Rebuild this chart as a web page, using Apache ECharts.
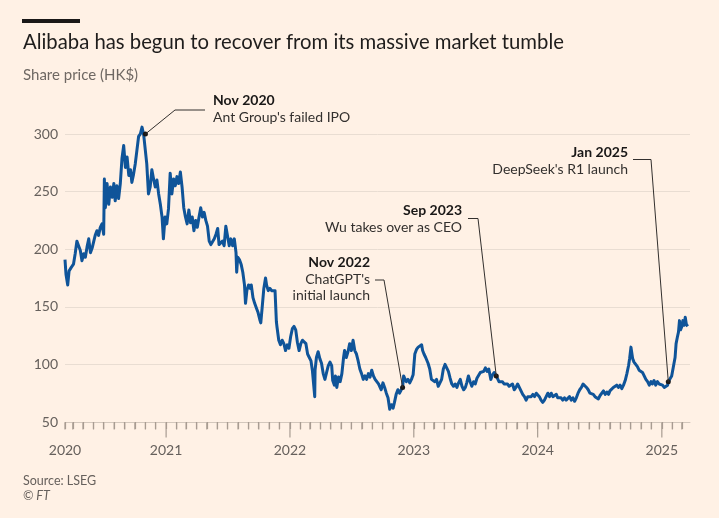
<!DOCTYPE html>
<html><head><meta charset="utf-8">
<script src="https://cdn.jsdelivr.net/npm/echarts@6/dist/echarts.min.js"></script>
<style>html,body{margin:0;padding:0;background:#fff1e5}#c{width:719px;height:518px}</style>
</head><body><div id="c"></div>
<script>
const dates = [
'2020-03-09','2020-03-12','2020-03-17','2020-03-21','2020-03-27','2020-04-03','2020-04-08','2020-04-13','2020-04-18','2020-04-23','2020-04-28',
'2020-05-03','2020-05-08','2020-05-13','2020-05-18','2020-05-23','2020-05-28','2020-06-01','2020-06-06','2020-06-11','2020-06-16','2020-06-21','2020-06-26',
'2020-07-01','2020-07-03','2020-07-06','2020-07-11','2020-07-16','2020-07-21','2020-07-26','2020-07-31','2020-08-04','2020-08-09','2020-08-14','2020-08-19',
'2020-08-24','2020-08-29','2020-09-03','2020-09-08','2020-09-13','2020-09-18','2020-09-22','2020-09-27','2020-10-02','2020-10-07','2020-10-12','2020-10-17',
'2020-10-22','2020-10-27','2020-11-01','2020-11-05','2020-11-10','2020-11-15','2020-11-20','2020-11-25','2020-11-30','2020-12-05','2020-12-10','2020-12-15',
'2020-12-20','2020-12-24','2020-12-29',
'2021-01-03','2021-01-08','2021-01-13','2021-01-18','2021-01-23','2021-01-28','2021-02-02','2021-02-07','2021-02-12','2021-02-17','2021-02-22','2021-02-27',
'2021-03-04','2021-03-09','2021-03-14','2021-03-19','2021-03-24','2021-03-29','2021-04-03','2021-04-08','2021-04-13','2021-04-18','2021-04-23','2021-04-28',
'2021-05-03','2021-05-08','2021-05-13','2021-05-18','2021-05-23','2021-05-28','2021-06-02','2021-06-06','2021-06-11','2021-06-16','2021-06-21','2021-06-26',
'2021-07-01','2021-07-06','2021-07-11','2021-07-16','2021-07-21','2021-07-26','2021-07-28','2021-07-31','2021-08-05','2021-08-10','2021-08-15','2021-08-20',
'2021-08-23','2021-08-27','2021-09-01','2021-09-06','2021-09-09','2021-09-14','2021-09-19','2021-09-24','2021-09-29','2021-10-04','2021-10-07','2021-10-11',
'2021-10-16','2021-10-21','2021-10-24','2021-10-29','2021-11-03','2021-11-08','2021-11-13','2021-11-18','2021-11-22','2021-11-24','2021-11-29','2021-12-04',
'2021-12-09','2021-12-14','2021-12-19','2021-12-24','2021-12-29',
'2022-01-03','2022-01-08','2022-01-13','2022-01-18','2022-01-23','2022-01-28','2022-02-02','2022-02-07','2022-02-12','2022-02-17','2022-02-22','2022-02-27',
'2022-03-04','2022-03-08','2022-03-15','2022-03-16','2022-03-20','2022-03-25','2022-03-30','2022-04-04','2022-04-09','2022-04-14','2022-04-19','2022-04-24',
'2022-04-29','2022-05-04','2022-05-07','2022-05-12','2022-05-15','2022-05-19','2022-05-24','2022-05-29','2022-06-03','2022-06-08','2022-06-11','2022-06-16',
'2022-06-21','2022-06-26','2022-07-01','2022-07-06','2022-07-11','2022-07-16','2022-07-21','2022-07-26','2022-07-31','2022-08-05','2022-08-10','2022-08-15',
'2022-08-20','2022-08-25','2022-08-30','2022-09-04','2022-09-09','2022-09-14','2022-09-19','2022-09-23','2022-09-27','2022-10-02','2022-10-07','2022-10-12',
'2022-10-17','2022-10-22','2022-10-27','2022-11-01','2022-11-05','2022-11-10','2022-11-15','2022-11-20','2022-11-25','2022-11-29','2022-12-02','2022-12-05',
'2022-12-10','2022-12-15','2022-12-20','2022-12-25','2022-12-30',
'2023-01-04','2023-01-09','2023-01-14','2023-01-19','2023-01-24','2023-01-27','2023-01-31','2023-02-05','2023-02-09','2023-02-12','2023-02-17','2023-02-22',
'2023-02-27','2023-03-04','2023-03-09','2023-03-14','2023-03-19','2023-03-24','2023-03-29','2023-04-03','2023-04-08','2023-04-13','2023-04-18','2023-04-23',
'2023-04-28','2023-05-03','2023-05-08','2023-05-13','2023-05-18','2023-05-23','2023-05-28','2023-06-02','2023-06-06','2023-06-11','2023-06-16','2023-06-21',
'2023-06-26','2023-07-01','2023-07-06','2023-07-11','2023-07-16','2023-07-21','2023-07-26','2023-07-31','2023-08-05','2023-08-10','2023-08-16','2023-08-21',
'2023-08-26','2023-09-01','2023-09-09','2023-09-14','2023-09-19','2023-09-24','2023-09-29','2023-10-04','2023-10-09','2023-10-14','2023-10-19','2023-10-24',
'2023-10-29','2023-11-03','2023-11-08','2023-11-13','2023-11-18','2023-11-23','2023-11-28','2023-12-03','2023-12-08','2023-12-13','2023-12-18','2023-12-23',
'2023-12-28',
'2024-01-01','2024-01-06','2024-01-11','2024-01-16','2024-01-21','2024-01-26','2024-01-31','2024-02-05','2024-02-10','2024-02-15','2024-02-20','2024-02-25',
'2024-02-29','2024-03-05','2024-03-10','2024-03-15','2024-03-20','2024-03-25','2024-03-30','2024-04-04','2024-04-09','2024-04-14','2024-04-19','2024-04-24',
'2024-04-29','2024-05-04','2024-05-09','2024-05-14','2024-05-19','2024-05-24','2024-05-29','2024-06-03','2024-06-08','2024-06-13','2024-06-18','2024-06-23',
'2024-06-28','2024-07-03','2024-07-08','2024-07-13','2024-07-18','2024-07-23','2024-07-28','2024-08-01','2024-08-06','2024-08-11','2024-08-16','2024-08-21',
'2024-08-26','2024-08-31','2024-09-05','2024-09-10','2024-09-15','2024-09-20','2024-09-25','2024-09-28','2024-10-02','2024-10-04','2024-10-07','2024-10-11',
'2024-10-16','2024-10-21','2024-10-26','2024-10-31','2024-11-05','2024-11-10','2024-11-15','2024-11-20','2024-11-25','2024-11-30','2024-12-04','2024-12-09',
'2024-12-14','2024-12-19','2024-12-24','2024-12-29',
'2025-01-03','2025-01-08','2025-01-13','2025-01-18','2025-01-20','2025-01-25','2025-01-30','2025-02-04','2025-02-09','2025-02-12','2025-02-16','2025-02-19',
'2025-02-22','2025-02-25','2025-03-01','2025-03-04','2025-03-08','2025-03-11','2025-03-14','2025-03-18'
];
const prices = [
191,178,169,181,184,187,196,207,203,199,190,
196,193,202,209,197,201,206,212,216,212,219,222,
213,261,236,257,239,254,245,257,242,255,244,257,
279,290,271,280,264,269,258,265,274,286,298,300,
306,299,300,274,248,254,269,261,254,260,248,239,
228,209,228,
222,235,266,248,261,255,263,257,267,254,236,228,
222,234,223,228,216,225,219,228,236,228,232,225,
220,207,204,205,209,213,218,204,204,207,203,220,
219,203,209,203,209,197,180,193,191,187,180,169,
153,164,169,166,169,158,153,149,145,139,136,149,
166,175,169,164,166,164,165,164,137,132,121,117,
121,118,112,117,114,
124,131,133,130,119,112,118,121,122,118,109,106,
103,95,72,95,106,111,105,101,92,87,93,99,
102,99,86,82,90,80,89,85,92,106,112,106,
111,118,112,121,112,109,103,96,92,87,90,87,
92,89,95,90,87,85,83,84,78,84,80,75,
71,61,65,62,67,74,78,75,78,80,90,88,
85,87,84,87,91,
109,113,115,116,117,112,109,106,106,101,96,87,
88,85,87,81,80,87,96,100,97,94,88,83,
81,83,80,84,87,81,78,80,84,90,85,81,
85,83,88,87,93,93,94,97,94,96,87,91,
93,90,85,84,85,83,84,83,81,80,83,78,
80,83,80,77,74,72,69,72,71,72,74,72,
75,
75,72,69,67,69,72,75,72,75,72,71,74,
71,72,71,69,71,69,68,72,69,71,68,71,
75,78,80,83,84,80,78,75,75,74,72,73,
70,73,73,77,74,76,74,77,77,80,79,82,
80,82,79,82,86,92,99,105,115,114,105,102,
103,98,95,96,93,90,87,85,82,85,83,86,
82,85,83,82,
82,80,79,82,85,86,90,98,106,118,124,128,
138,130,133,138,134,141,135,133
];
const yTicks = [50, 100, 150, 200, 250, 300];
const yearLabels = ['2020', '2021', '2022', '2023', '2024', '2025'];
const yearLabelDates = ['2020-03-09', '2021-01-01', '2022-01-01', '2023-01-01', '2024-01-01', '2025-01-01'];
const annotationDates = ['2020-11-01', '2022-11-29', '2023-09-01', '2025-01-20'];
const annotationTitles = ['Nov 2020', 'Nov 2022', 'Sep 2023', 'Jan 2025'];
const annotationTexts = [["Ant Group's failed IPO"], ["ChatGPT's", 'initial launch'], ['Wu takes over as CEO'], ["DeepSeek's R1 launch"]];

const FONT = 'Lato, "Noto Sans", sans-serif';
const axisStart = '2020-03-09', axisEnd = '2025-03-25';
const ts = d => { const p = d.split('-').map(Number); return Date.UTC(p[0], p[1] - 1, p[2]); };

// tick positions (layout)
const minorTicks = [ts(axisStart)];
const majorTicks = [];
for (let y = 2020, m = 3; y < 2025 || (y === 2025 && m <= 2); ) {
  const t = Date.UTC(y, m, 1);
  if (m === 0) majorTicks.push(t); else minorTicks.push(t);
  m++; if (m > 11) { m = 0; y++; }
}
const labelValues = yearLabelDates.map(ts);
const valueAt = d => prices[dates.indexOf(d)];
const TICK = '#a89c92';

const chart = echarts.init(document.getElementById('c'), null, {renderer: 'canvas'});
chart.setOption({
  backgroundColor: '#fff1e5',
  animation: false,
  grid: {left: 65, right: 29, top: 134, bottom: 96, containLabel: false},
  xAxis: {
    type: 'value', min: ts(axisStart), max: ts(axisEnd), splitLine: {show: false},
    axisLine: {show: true, lineStyle: {color: '#d3c7bc', width: 1}},
    axisTick: {show: true, customValues: minorTicks.concat(majorTicks), length: 7, lineStyle: {color: TICK, width: 1.2}},
    axisLabel: {show: true, customValues: labelValues, margin: 21, color: '#66605c', fontSize: 14, fontFamily: FONT,
      formatter: v => { const i = labelValues.indexOf(v); return i >= 0 ? yearLabels[i] : ''; }}
  },
  yAxis: {
    type: 'value', min: yTicks[0], max: yTicks[yTicks.length - 1], interval: 50,
    axisLine: {show: false}, axisTick: {show: false},
    axisLabel: {color: '#66605c', fontSize: 14, fontFamily: FONT, margin: 7},
    splitLine: {lineStyle: {color: '#e9ddd2', width: 1}}
  },
  series: [
    {
      type: 'line', data: dates.map((d, i) => [ts(d), prices[i]]),
      showSymbol: false, symbol: 'none', smooth: false, clip: false,
      lineStyle: {color: '#0f5499', width: 3, join: 'round'},
      z: 3,
      markPoint: {
        symbol: 'circle', symbolSize: 5, silent: true,
        itemStyle: {color: '#1a1817'}, label: {show: false},
        data: annotationDates.map(d => ({coord: [ts(d), valueAt(d)]}))
      }
    },
    {
      type: 'scatter', data: minorTicks.map(t => [t, yTicks[0]]), clip: false, silent: true,
      symbol: 'rect', symbolSize: [1.2, 7], symbolOffset: [0, 4], itemStyle: {color: TICK, opacity: 1}, z: 6
    },
    {
      type: 'scatter', data: majorTicks.map(t => [t, yTicks[0]]), clip: false, silent: true,
      symbol: 'rect', symbolSize: [1.2, 15], symbolOffset: [0, 8], itemStyle: {color: TICK, opacity: 1}, z: 6
    }
  ]
});

// annotation layout (pixels for label text and elbow)
const annLayout = [
  {tx: 213, ty: 100.5, align: 'left', elbow: [[205, 110], [175, 110]]},
  {tx: 370, ty: 262.5, align: 'right', elbow: [[375, 280], [384, 280]]},
  {tx: 462, ty: 210.5, align: 'right', elbow: [[468, 218.5], [478, 218.5]]},
  {tx: 628, ty: 152.5, align: 'right', elbow: [[633, 159.5], [651, 159.5]]}
];
const gfx = [
  {type: 'rect', shape: {x: 22, y: 19, width: 58, height: 4}, style: {fill: '#1a1817'}},
  {type: 'text', x: 23, y: 42, style: {text: 'Alibaba has begun to recover from its massive market tumble', font: '20.3px ' + FONT, fill: '#1f1d1c', textVerticalAlign: 'middle', verticalAlign: 'middle'}},
  {type: 'text', x: 23, y: 75, style: {text: 'Share price (HK$)', font: '15px ' + FONT, fill: '#6f6863', textVerticalAlign: 'middle', verticalAlign: 'middle'}},
  {type: 'text', x: 23, y: 481, style: {text: 'Source: LSEG', font: '12.5px ' + FONT, fill: '#66605c', textVerticalAlign: 'middle', verticalAlign: 'middle'}},
  {type: 'text', x: 23, y: 496, style: {text: '© FT', font: 'italic 12.5px ' + FONT, fill: '#66605c', textVerticalAlign: 'middle', verticalAlign: 'middle'}}
];
annotationDates.forEach((d, i) => {
  const L = annLayout[i];
  const pt = chart.convertToPixel({gridIndex: 0}, [ts(d), valueAt(d)]);
  gfx.push({type: 'polyline', shape: {points: [L.elbow[0], L.elbow[1], pt]}, style: {stroke: '#33302e', lineWidth: 1, fill: null}, z: 10});
  gfx.push({type: 'text', x: L.tx, y: L.ty, style: {text: annotationTitles[i], font: 'bold 14px ' + FONT, fill: '#1a1817',
    textAlign: L.align, align: L.align, textVerticalAlign: 'middle', verticalAlign: 'middle'}});
  annotationTexts[i].forEach((t, j) => {
    gfx.push({type: 'text', x: L.tx, y: L.ty + 16.5 * (j + 1), style: {text: t, font: '14px ' + FONT, fill: '#33302e',
      textAlign: L.align, align: L.align, textVerticalAlign: 'middle', verticalAlign: 'middle'}});
  });
});
chart.setOption({graphic: gfx});
</script></body></html>
